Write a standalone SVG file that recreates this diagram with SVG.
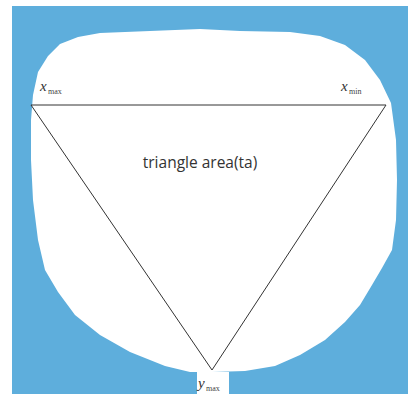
<svg xmlns="http://www.w3.org/2000/svg" width="408" height="394" viewBox="0 0 408 394">
<style>
.edge{stroke:#333;stroke-width:1;fill:none}
.var{font-family:"Liberation Serif",serif;font-style:italic;font-size:15px;fill:#333}
.sub{font-family:"Liberation Serif",serif;font-size:8px;fill:#444}
.lbl{font-family:"Open Sans","Liberation Sans",sans-serif;font-size:15.5px;fill:#333}
</style>
<rect x="0" y="0" width="408" height="394" fill="#ffffff"/>
<rect x="12" y="6" width="396" height="388" fill="#5eaedc"/>
<path id="blob" fill="#ffffff" d="M33,95 L38,72 L48,56 L60,44 L78,37 L100,33 L150,31 L200,29 L240,31 L290,32 L320,36 L345,45 L365,60 L380,80 L391,103 L396,140 L397,180 L396,220 L392,250 L382,268 L372,285 L360,305 L345,322 L325,340 L300,355 L275,366 L245,371 L212,372 L190,372 L165,366 L130,352 L100,335 L75,315 L58,292 L45,270 L38,240 L33,200 L31,160 L31,120 Z"/>
<g id="connectors">
<line class="edge" x1="31" y1="105" x2="386" y2="105" stroke="#555"/>
<line class="edge" x1="31" y1="105" x2="212" y2="370"/>
<line class="edge" x1="386" y1="105" x2="212" y2="370"/>
</g>
<g id="xmax"><text x="40" y="91" class="var">x</text><text x="48" y="94" class="sub">max</text></g>
<g id="xmin"><text x="341" y="91" class="var">x</text><text x="349" y="94" class="sub">min</text></g>
<g id="ymax"><rect x="197" y="372" width="32" height="22" fill="#ffffff"/><text x="198" y="388" class="var">y</text><text x="206" y="391" class="sub">max</text></g>
<g id="label"><text x="200" y="168" class="lbl" text-anchor="middle">triangle area(ta)</text></g>
</svg>
